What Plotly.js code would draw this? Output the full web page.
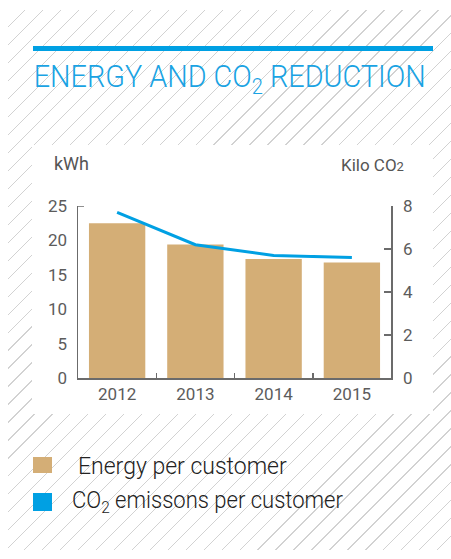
<!DOCTYPE html>
<html>
<head>
<meta charset="utf-8">
<script src="https://cdn.plot.ly/plotly-3.0.1.min.js"></script>
<style>
  html, body { margin: 0; padding: 0; background: #ffffff; width: 451px; height: 559px; overflow: hidden; }
  #hatch { position: absolute; left: 8px; top: 10px; width: 443px; height: 540px;
    background: repeating-linear-gradient(135deg, rgba(0,0,0,0) 0px, rgba(0,0,0,0) 11.8px, #d2d2d2 11.8px, #d2d2d2 12.7px); }
  #whitebox { position: absolute; left: 32px; top: 145px; width: 401px; height: 269px; background: #ffffff; }
  #rule { position: absolute; left: 33px; top: 46px; width: 400px; height: 5px; background: #00a0e3; }
  #chart { position: absolute; left: 0; top: 0; width: 451px; height: 559px; }
</style>
</head>
<body>
<div id="hatch"></div>
<div id="whitebox"></div>
<div id="rule"></div>
<div id="chart"></div>
<script>
// ---- data ----
const years = ['2012', '2013', '2014', '2015'];
const energyPerCustomer = [22.5, 19.4, 17.3, 16.8];   // kWh (left axis)
const co2PerCustomer = [7.7, 6.2, 5.7, 5.6];          // kilo CO2 (right axis)
const leftTicks = [0, 5, 10, 15, 20, 25];
const rightTicks = [0, 2, 4, 6, 8];
const legendLabels = ['Energy per customer', 'CO<sub>2</sub> emissons per customer'];

// ---- geometry helpers (pixel -> paper) ----
const L = 78, R = 391, T = 206, B = 378;
const W = R - L, H = B - T;
const PX = x => (x - L) / W;
const PY = y => (B - y) / H;

const tan = '#d4ae76';
const blue = '#00a0e3';
const axisGray = '#6b6b6b';
const tickFont = { family: 'Roboto, "Open Sans", sans-serif', size: 17, color: '#5c5c5c' };
const thinFont = 'Roboto, "Open Sans", sans-serif';

const traces = [
  { type: 'bar', x: years, y: energyPerCustomer, marker: { color: tan }, hoverinfo: 'skip', showlegend: false },
  { type: 'scatter', mode: 'lines', x: years, y: co2PerCustomer, yaxis: 'y2', line: { color: blue, width: 3 }, hoverinfo: 'skip', showlegend: false }
];

const layout = {
  width: 451, height: 559, autosize: false,
  margin: { l: L, r: 451 - R, t: T, b: 559 - B, pad: 0 },
  paper_bgcolor: 'rgba(0,0,0,0)', plot_bgcolor: 'rgba(0,0,0,0)',
  bargap: 0.28,
  showlegend: false,
  xaxis: {
    type: 'category', showline: true, linecolor: axisGray, linewidth: 1.5,
    ticks: 'inside', tickson: 'boundaries', ticklen: 5, tickcolor: axisGray, tickwidth: 1.5,
    tickfont: tickFont, showgrid: false, zeroline: false, fixedrange: true
  },
  yaxis: {
    range: [0, 25], tickvals: leftTicks, ticktext: leftTicks.map(String),
    showline: true, linecolor: axisGray, linewidth: 1.5, ticks: '',
    tickfont: tickFont, ticklabelstandoff: 6, showgrid: false, zeroline: false, fixedrange: true
  },
  yaxis3: {
    range: [0, 25], overlaying: 'y', side: 'left', anchor: 'x',
    tickvals: leftTicks.slice(1, 5), ticks: 'outside', ticklen: 5, tickcolor: axisGray, tickwidth: 1.5,
    showticklabels: false, showline: false, showgrid: false, zeroline: false, fixedrange: true
  },
  yaxis2: {
    range: [0, 8], tickvals: rightTicks, overlaying: 'y', side: 'right', anchor: 'x',
    showline: true, linecolor: axisGray, linewidth: 1.5,
    ticks: 'inside', ticklen: 7, tickcolor: axisGray, tickwidth: 1.5,
    tickfont: tickFont, ticklabelstandoff: 7, showgrid: false, zeroline: false, fixedrange: true
  },
  shapes: [
    { type: 'line', xref: 'paper', yref: 'y', xsizemode: 'pixel', xanchor: 0, x0: 0, x1: 6, y0: 25, y1: 25,
      line: { color: axisGray, width: 1.5 } },
    { type: 'rect', xref: 'paper', yref: 'paper', x0: PX(33), x1: PX(52), y0: PY(473), y1: PY(457),
      line: { width: 0 }, fillcolor: tan },
    { type: 'rect', xref: 'paper', yref: 'paper', x0: PX(33), x1: PX(52), y0: PY(511), y1: PY(493),
      line: { width: 0 }, fillcolor: blue }
  ],
  annotations: [
    { text: 'ENERGY AND CO<sub>2</sub> REDUCTION', xref: 'paper', yref: 'paper', x: PX(229), y: PY(101),
      xanchor: 'center', yanchor: 'bottom', showarrow: false,
      font: { family: thinFont, size: 32, color: '#1aa3e3', weight: 300 } },
    { text: 'kWh', xref: 'paper', yref: 'paper', x: PX(71.5), y: PY(163), xanchor: 'center', yanchor: 'middle',
      showarrow: false, font: { family: thinFont, size: 18, color: '#555555' } },
    { text: 'Kilo CO<span style="font-size:13px">2</span>', xref: 'paper', yref: 'paper', x: PX(372), y: PY(165),
      xanchor: 'center', yanchor: 'middle', showarrow: false, font: { family: thinFont, size: 17, color: '#555555' } },
    { text: legendLabels[0], xref: 'paper', yref: 'paper', x: PX(76), y: PY(466), xanchor: 'left', yanchor: 'middle',
      showarrow: false, font: { family: thinFont, size: 23, color: '#222222', weight: 300 } },
    { text: legendLabels[1], xref: 'paper', yref: 'paper', x: PX(207.5), y: PY(502), xanchor: 'center', yanchor: 'middle',
      showarrow: false, font: { family: thinFont, size: 23, color: '#222222', weight: 300 } }
  ]
};

// condensed widths (px) for texts set in a narrow face in the reference
const condensedWidths = { 0: 392, 4: 271 };

Plotly.newPlot('chart', traces, layout, { staticPlot: true, displayModeBar: false }).then(gd => {
  const anns = gd.querySelectorAll('.annotation');
  anns.forEach(a => {
    const idx = a.getAttribute('data-index');
    if (condensedWidths[idx] !== undefined) {
      const t = a.querySelector('text.annotation-text');
      if (t) {
        t.setAttribute('textLength', condensedWidths[idx]);
        t.setAttribute('lengthAdjust', 'spacingAndGlyphs');
      }
    }
  });
});
</script>
</body>
</html>
